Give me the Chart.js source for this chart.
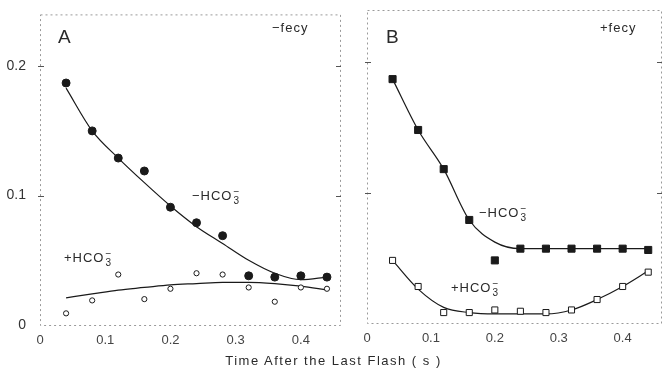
<!DOCTYPE html>
<html>
<head>
<meta charset="utf-8">
<script src="https://cdn.jsdelivr.net/npm/chart.js@4.4.1/dist/chart.umd.min.js"></script>
<style>
  body { margin: 0; background: #fff; }
  #wrap { position: relative; width: 667px; height: 380px; font-family: "Liberation Sans", Arial, sans-serif; color: #2a2a2a; }
  #boxA { position: absolute; left: 0; top: 0; width: 345px; height: 380px; }
  #boxB { position: absolute; left: 345px; top: 0; width: 322px; height: 380px; }
  .lbl { position: absolute; white-space: nowrap; font-size: 13px; letter-spacing: 1px; line-height: 16px; }
  .big { font-size: 19px; letter-spacing: 0; }
  .ion { position: relative; display: inline-block; width: 8px; height: 16px; vertical-align: top; }
  .ion .ch { position: absolute; left: 1px; top: -1px; font-size: 10px; line-height: 10px; }
  .ion .sb { position: absolute; left: 1px; top: 8px; font-size: 10px; line-height: 10px; }
  #xtitle { position: absolute; left: 0; width: 667px; top: 353px; text-align: center; font-size: 13px; letter-spacing: 1.5px; }
</style>
</head>
<body>
<div id="wrap">
  <div id="boxA"><canvas id="chartA"></canvas></div>
  <div id="boxB"><canvas id="chartB"></canvas></div>
  <div class="lbl big" style="left:58px; top:29px;">A</div>
  <div class="lbl" style="left:272px; top:20px;">−fecy</div>
  <div class="lbl big" style="left:386px; top:29px;">B</div>
  <div class="lbl" style="left:600px; top:20px;">+fecy</div>
  <div class="lbl" style="left:192px; top:188px;">−HCO<span class="ion"><span class="ch">−</span><span class="sb">3</span></span></div>
  <div class="lbl" style="left:64px; top:250px;">+HCO<span class="ion"><span class="ch">−</span><span class="sb">3</span></span></div>
  <div class="lbl" style="left:479px; top:205px;">−HCO<span class="ion"><span class="ch">−</span><span class="sb">3</span></span></div>
  <div class="lbl" style="left:451px; top:280px;">+HCO<span class="ion"><span class="ch">−</span><span class="sb">3</span></span></div>
  <div id="xtitle">Time After the Last Flash ( s )</div>
</div>
<script>
// time after the last flash (s)
var times = [0.04, 0.08, 0.12, 0.16, 0.20, 0.24, 0.28, 0.32, 0.36, 0.40, 0.44]
var xTicks = [0, 0.1, 0.2, 0.3, 0.4]
var yTicks = [0, 0.1, 0.2]
var yTickLabels = ["0", "0.1", "0.2"]

// panel A, -fecy
var aMinusPts = [0.187, 0.150, 0.129, 0.119, 0.091, 0.079, 0.069, 0.038, 0.037, 0.038, 0.037]
var aMinusFit = [0.183, 0.150, 0.129, 0.110, 0.092, 0.076, 0.063, 0.050, 0.040, 0.035, 0.037]
var aPlusPts = [0.009, 0.019, 0.039, 0.020, 0.028, 0.040, 0.039, 0.029, 0.018, 0.029, 0.028]
var aPlusFit = [0.021, 0.024, 0.027, 0.029, 0.031, 0.032, 0.033, 0.033, 0.032, 0.030, 0.027]

// panel B, +fecy
var bMinusPts = [0.187, 0.148, 0.118, 0.079, 0.048, 0.057, 0.057, 0.057, 0.057, 0.057, 0.056]
var bMinusFit = [0.187, 0.148, 0.118, 0.079, 0.062, 0.057, 0.057, 0.057, 0.057, 0.057, 0.057]
var bPlusPts = [0.048, 0.028, 0.008, 0.008, 0.010, 0.009, 0.008, 0.010, 0.018, 0.028, 0.039]
var bPlusFit = [0.048, 0.026, 0.012, 0.008, 0.007, 0.007, 0.007, 0.010, 0.018, 0.028, 0.040]

function pairs(ys) {
  return times.map(function(t, i) { return { x: t, y: ys[i] } })
}

var ink = "#1a1a1a"
var frameColor = "#9a9a9a"

var framePlugin = {
  id: "frame",
  afterDraw: function(chart) {
    var a = chart.chartArea
    var ctx = chart.ctx
    var ys = chart.scales.y
    ctx.save()
    ctx.strokeStyle = frameColor
    ctx.lineWidth = 1
    ctx.setLineDash([2, 3])
    ctx.strokeRect(a.left + 0.5, a.top + 0.5, a.right - a.left, a.bottom - a.top)
    ctx.setLineDash([])
    ctx.strokeStyle = "#555"
    yTicks.forEach(function(v) {
      if (v === 0) return
      var py = Math.round(ys.getPixelForValue(v)) + 0.5
      ctx.beginPath()
      ctx.moveTo(a.left - 2, py); ctx.lineTo(a.left + 4, py)
      ctx.moveTo(a.right - 4, py); ctx.lineTo(a.right + 1, py)
      ctx.stroke()
    })
    ctx.restore()
  }
}

function fitSet(ys) {
  return {
    data: pairs(ys), showLine: true, borderColor: ink, borderWidth: 1.2,
    pointRadius: 0, cubicInterpolationMode: "monotone", order: 2
  }
}

function ptSet(ys, style, filled, r) {
  return {
    data: pairs(ys), showLine: false, pointStyle: style, pointRadius: r,
    pointBackgroundColor: filled ? ink : "#fff", pointBorderColor: ink,
    pointBorderWidth: 1, order: 1
  }
}

function makeChart(id, datasets, showYLabels, yWidth, pad) {
  return new Chart(document.getElementById(id), {
    type: "scatter",
    data: { datasets: datasets },
    plugins: [framePlugin],
    options: {
      responsive: true,
      maintainAspectRatio: false,
      animation: false,
      layout: { padding: pad },
      plugins: { legend: { display: false }, tooltip: { enabled: false } },
      scales: {
        x: {
          type: "linear", min: 0, max: 0.46,
          afterBuildTicks: function(s) { s.ticks = xTicks.map(function(v) { return { value: v } }) },
          afterFit: function(s) { s.height = 55 },
          grid: { display: false, drawOnChartArea: false },
          border: { display: false },
          ticks: {
            padding: 0, color: "#444",
            font: { family: "Liberation Sans", size: 13 },
            callback: function(v) { return v === 0 ? "0" : String(v) }
          }
        },
        y: {
          type: "linear", min: 0, max: 0.24,
          afterBuildTicks: function(s) { s.ticks = yTicks.map(function(v) { return { value: v } }) },
          afterFit: function(s) { s.width = yWidth },
          grid: { display: false },
          border: { display: false },
          ticks: {
            display: showYLabels, padding: 6, color: "#333",
            font: { family: "Liberation Sans", size: 14 },
            callback: function(v) { return yTickLabels[yTicks.indexOf(v)] }
          }
        }
      }
    }
  })
}

makeChart("chartA", [
  fitSet(aMinusFit), fitSet(aPlusFit),
  ptSet(aMinusPts, "circle", true, 4), ptSet(aPlusPts, "circle", false, 2.6)
], true, 40, { top: 12, right: 5, left: 0, bottom: 0 })

makeChart("chartB", [
  fitSet(bMinusFit), fitSet(bPlusFit),
  ptSet(bMinusPts, "rect", true, 5), ptSet(bPlusPts, "rect", false, 4.3)
], false, 22, { top: 10, right: 2, left: 0, bottom: 2 })
</script>
</body>
</html>
